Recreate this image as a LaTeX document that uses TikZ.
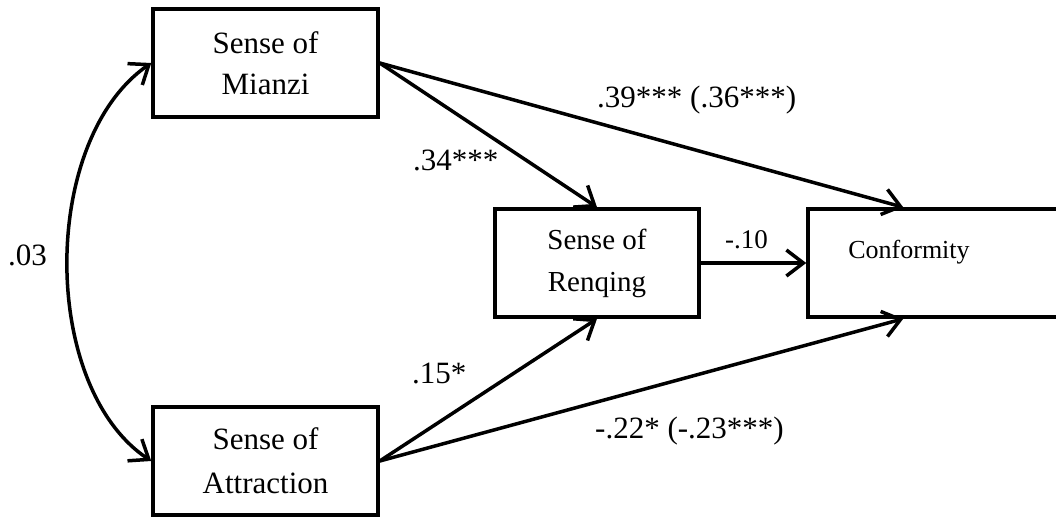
\documentclass[tikz,border=0pt]{standalone}
\usepackage{fontspec}
\setmainfont{Liberation Serif}
\usetikzlibrary{arrows.meta,calc}
\begin{document}
\begin{tikzpicture}[x=1pt,y=-1pt,
  box/.style={draw, line width=3.5pt, rectangle, inner sep=0pt, align=center,
    minimum height=108pt},
  conn/.style={line width=3.5pt, -{Straight Barb[length=17pt,width=26pt]}},
  lab/.style={anchor=base west, inner sep=0pt, font=\fontsize{31}{36}\selectfont},
  txt/.style={font=\fontsize{31}{41}\selectfont}]
\useasboundingbox (0,0) rectangle (1056,516);
\node[box, txt, minimum width=225pt] (mianzi) at (265.5,63) {Sense of\\Mianzi};
\node[box, txt, minimum width=225pt, font=\fontsize{31}{44}\selectfont] (attr) at (265.5,461) {Sense of\\Attraction};
\node[box, minimum width=204pt, font=\fontsize{29}{42}\selectfont] (renqing) at (597,263) {Sense of\\Renqing};
\node[box, minimum width=260pt] (conf) at (938,263) {};
\node[anchor=base, inner sep=0pt, font=\fontsize{26}{30}\selectfont] (conftext) at (909,258) {Conformity};
\coordinate (ctop) at ([xshift=97pt]conf.north west);
\coordinate (cbot) at ([xshift=97pt]conf.south west);
\draw[conn] (mianzi.east) -- (renqing.north);
\draw[conn] (mianzi.east) -- (ctop);
\draw[conn] (renqing.east) -- (conf.west);
\draw[conn] (attr.east) -- (renqing.south);
\draw[conn] (attr.east) -- (cbot);
\draw[line width=3.5pt, {Straight Barb[length=17pt,width=26pt]}-{Straight Barb[length=17pt,width=26pt]}]
  (mianzi.west) .. controls (40,140) and (40,387) .. (attr.west);
\node[lab] (l1) at (217+380,107) {.39*** (.36***)};
\node[lab] (l2) at (413,170) {.34***};
\node[lab] (l3) at (412,383) {.15*};
\node[lab] (l4) at (595,438) {-.22* (-.23***)};
\node[lab, font=\fontsize{27}{30}\selectfont] (l5) at (725,248) {-.10};
\node[lab] (l6) at (8,265) {.03};
\end{tikzpicture}
\end{document}
